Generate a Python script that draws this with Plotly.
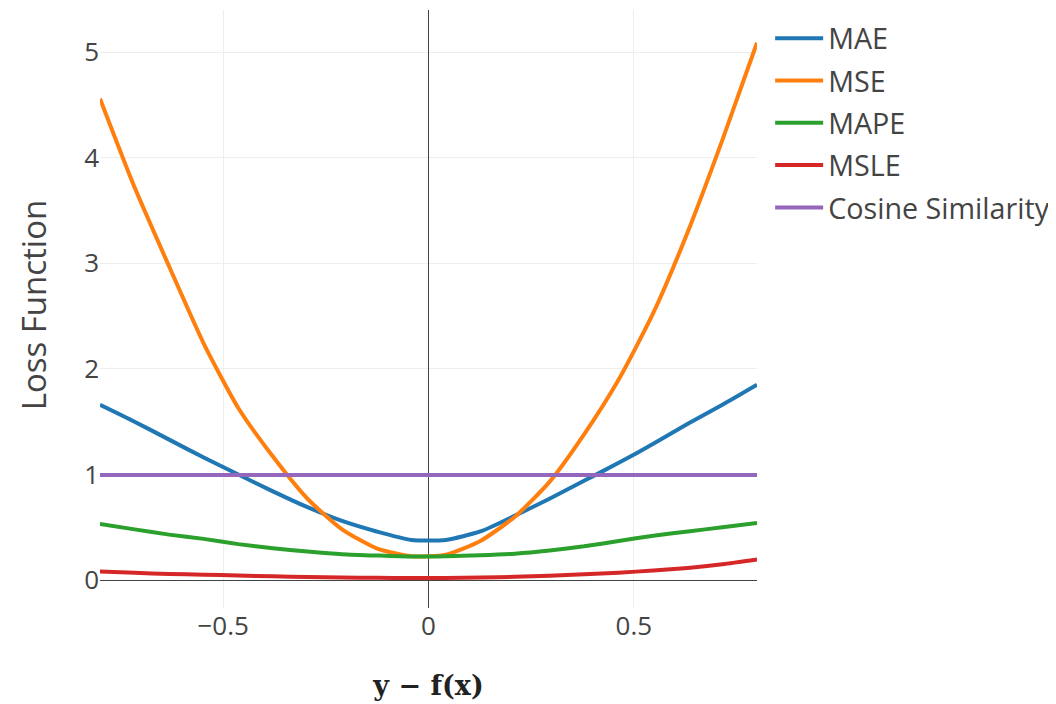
import plotly.graph_objects as go

x_vals = [-0.8, -0.7158, -0.6316, -0.5474, -0.4632, -0.3789, -0.2947, -0.2105, -0.1263, -0.0421,
          0.0421, 0.1263, 0.2105, 0.2947, 0.3789, 0.4632, 0.5474, 0.6316, 0.7158, 0.8]

mae = [1.66, 1.50, 1.33, 1.16, 1.00, 0.84, 0.69, 0.56, 0.46, 0.38,
       0.38, 0.46, 0.61, 0.77, 0.94, 1.11, 1.29, 1.48, 1.66, 1.85]
mse = [4.56, 3.72, 2.97, 2.24, 1.63, 1.17, 0.77, 0.48, 0.30, 0.225,
       0.24, 0.37, 0.60, 0.93, 1.38, 1.90, 2.53, 3.30, 4.17, 5.09]
mape = [0.53, 0.48, 0.43, 0.39, 0.34, 0.30, 0.27, 0.245, 0.232, 0.222,
        0.225, 0.235, 0.25, 0.28, 0.32, 0.37, 0.42, 0.46, 0.50, 0.54]
msle = [0.08, 0.068, 0.058, 0.05, 0.043, 0.035, 0.028, 0.024, 0.021, 0.019,
        0.02, 0.024, 0.03, 0.04, 0.055, 0.07, 0.09, 0.115, 0.15, 0.195]
cosine = [0.995] * 20

names = ["MAE", "MSE", "MAPE", "MSLE", "Cosine Similarity"]
colors = ["#1f77b4", "#ff7f0e", "#2ca02c", "#d62728", "#9467bd"]
series = [mae, mse, mape, msle, cosine]

fig = go.Figure()
for name, color, ys in zip(names, colors, series):
    fig.add_trace(go.Scatter(x=x_vals, y=ys, mode="lines", name=name, legendgroup=name,
                             line=dict(color=color, width=4, shape="spline", smoothing=0.6)))

fig.update_layout(
    template="none",
    width=1056, height=704,
    paper_bgcolor="white", plot_bgcolor="white",
    font=dict(family="Open Sans, verdana, arial, sans-serif", size=26, color="#444"),
    margin=dict(l=92, r=307, t=2, b=104),
    legend=dict(font=dict(size=28.7), x=1.02, y=0.995, xanchor="left", yanchor="top",
                itemwidth=48, tracegroupgap=2),
    xaxis=dict(
        range=[-0.8, 0.8], showgrid=True, gridcolor="#eee", gridwidth=1,
        zeroline=True, zerolinecolor="#444", zerolinewidth=1,
        showline=False, ticks="", tickvals=[-0.5, 0, 0.5],
        title=dict(text="<b>y − f(x)</b>", standoff=34,
                   font=dict(family="DejaVu Serif, Liberation Serif, serif", size=27, color="#222")),
    ),
    yaxis=dict(
        range=[-0.265, 5.4], showgrid=True, gridcolor="#eee", gridwidth=1,
        zeroline=True, zerolinecolor="#444", zerolinewidth=1,
        showline=False, ticks="", tickvals=[0, 1, 2, 3, 4, 5],
    ),
    annotations=[dict(text="Loss Function", textangle=-90, xref="paper", yref="paper",
                      x=-0.1385, y=0.507, xanchor="left", yanchor="middle",
                      showarrow=False, font=dict(size=33, color="#444"))],
)

fig.write_html("out.html")
